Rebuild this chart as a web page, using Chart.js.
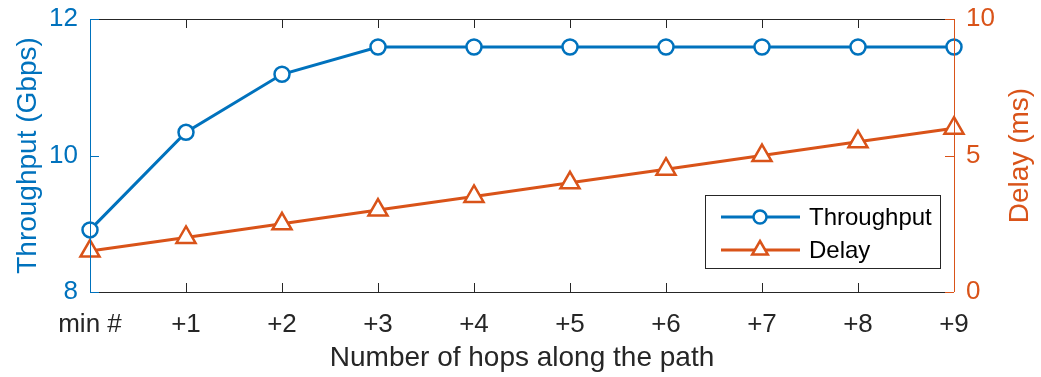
<!DOCTYPE html>
<html>
<head>
<meta charset="utf-8">
<script src="https://cdn.jsdelivr.net/npm/chart.js@4"></script>
<style>
  html, body { margin: 0; padding: 0; background: #fff; }
  #wrap { width: 1041px; height: 377px; }
</style>
</head>
<body>
<div id="wrap"><canvas id="myChart"></canvas></div>
<script>
const hops = ['min #', '+1', '+2', '+3', '+4', '+5', '+6', '+7', '+8', '+9'];
const throughput = [8.91, 10.34, 11.19, 11.59, 11.59, 11.59, 11.59, 11.59, 11.59, 11.59];
const delay = [1.5, 2.0, 2.5, 3.0, 3.5, 4.0, 4.5, 5.0, 5.5, 6.0];
const throughputTicks = [8, 10, 12];
const delayTicks = [0, 5, 10];

const blue = '#0072BD';
const orange = '#D95319';
const font = 'Liberation Sans, Arial, sans-serif';

// box, inward tick marks, right title and the legend, MATLAB style
const matlabBox = {
  id: 'matlabBox',
  afterDatasetsDraw(chart) {
    const c = chart.ctx;
    const a = chart.chartArea;
    const x = chart.scales.x, y = chart.scales.y, y1 = chart.scales.y1;
    c.save();
    c.lineWidth = 1;
    // top / bottom
    c.strokeStyle = '#262626';
    c.beginPath();
    c.moveTo(a.left, a.top + 0.5); c.lineTo(a.right, a.top + 0.5);
    c.moveTo(a.left, a.bottom + 0.5); c.lineTo(a.right, a.bottom + 0.5);
    x.ticks.forEach((t, i) => {
      const px = Math.round(x.getPixelForTick(i)) + 0.5;
      c.moveTo(px, a.bottom); c.lineTo(px, a.bottom - 9);
      c.moveTo(px, a.top); c.lineTo(px, a.top + 9);
    });
    c.stroke();
    // left axis
    c.strokeStyle = blue;
    c.beginPath();
    c.moveTo(a.left + 0.5, a.top); c.lineTo(a.left + 0.5, a.bottom);
    throughputTicks.forEach(v => {
      const py = Math.round(y.getPixelForValue(v)) + 0.5;
      c.moveTo(a.left, py); c.lineTo(a.left + 9, py);
    });
    c.stroke();
    // right axis
    c.strokeStyle = orange;
    c.beginPath();
    c.moveTo(a.right + 0.5, a.top); c.lineTo(a.right + 0.5, a.bottom);
    delayTicks.forEach(v => {
      const py = Math.round(y1.getPixelForValue(v)) + 0.5;
      c.moveTo(a.right, py); c.lineTo(a.right - 9, py);
    });
    c.stroke();

    // right axis title, reading bottom to top
    c.save();
    c.translate(1020, (a.top + a.bottom) / 2);
    c.rotate(-Math.PI / 2);
    c.fillStyle = orange;
    c.font = '28px ' + font;
    c.textAlign = 'center';
    c.textBaseline = 'middle';
    c.fillText('Delay (ms)', 0, 0);
    c.restore();

    // legend
    const lx = 705, ly = 195, lw = 235, lh = 73;
    c.fillStyle = '#fff';
    c.fillRect(lx, ly, lw, lh);
    c.strokeStyle = '#262626';
    c.lineWidth = 1;
    c.strokeRect(lx + 0.5, ly + 0.5, lw, lh);
    chart.data.datasets.forEach((ds, i) => {
      const ry = ly + 22 + i * 33;
      c.strokeStyle = ds.borderColor;
      c.lineWidth = 3;
      c.beginPath();
      c.moveTo(lx + 16, ry); c.lineTo(lx + 95, ry);
      c.stroke();
      c.fillStyle = '#fff';
      c.lineWidth = 2.5;
      c.beginPath();
      if (ds.pointStyle === 'circle') {
        c.arc(lx + 55, ry, 6.5, 0, Math.PI * 2);
      } else {
        const r = 9;
        c.moveTo(lx + 55, ry - r);
        c.lineTo(lx + 55 + r * 0.87, ry + r * 0.5);
        c.lineTo(lx + 55 - r * 0.87, ry + r * 0.5);
        c.closePath();
      }
      c.fill(); c.stroke();
      c.fillStyle = '#000';
      c.font = '24px ' + font;
      c.textBaseline = 'middle';
      c.textAlign = 'left';
      c.fillText(ds.label, lx + 104, ry + 1);
    });
    c.restore();
  }
};

function noPad(s) {
  s.paddingTop = 0; s.paddingBottom = 0;
  s.paddingLeft = 0; s.paddingRight = 0;
}

const ctx = document.getElementById('myChart');

new Chart(ctx, {
  type: 'line',
  data: {
    labels: hops,
    datasets: [{
      label: 'Throughput',
      data: throughput,
      yAxisID: 'y',
      borderColor: blue,
      backgroundColor: '#fff',
      borderWidth: 3,
      pointStyle: 'circle',
      pointRadius: 7.5,
      pointBorderWidth: 2.5,
      tension: 0
    }, {
      label: 'Delay',
      data: delay,
      yAxisID: 'y1',
      borderColor: orange,
      backgroundColor: '#fff',
      borderWidth: 3,
      pointStyle: 'triangle',
      pointRadius: 11,
      pointBorderWidth: 2.5,
      tension: 0
    }]
  },
  options: {
    responsive: true,
    maintainAspectRatio: false,
    animation: false,
    layout: { padding: { top: 19, left: 0, right: 0, bottom: 0 } },
    plugins: {
      legend: { display: false },
      tooltip: { enabled: false }
    },
    scales: {
      x: {
        type: 'category',
        offset: false,
        grid: { display: false, drawTicks: false },
        border: { display: false },
        ticks: {
          color: '#262626',
          font: { family: font, size: 26 },
          padding: 17,
          maxRotation: 0,
          autoSkip: false
        },
        title: {
          display: true,
          text: 'Number of hops along the path',
          color: '#262626',
          font: { family: font, size: 28 },
          padding: { top: 0, bottom: 2 }
        },
        afterFit(s) { s.height = 85; noPad(s); }
      },
      y: {
        position: 'left',
        min: 8,
        max: 12,
        afterBuildTicks(s) { s.ticks = throughputTicks.map(v => ({ value: v })); },
        grid: { display: false, drawTicks: false },
        border: { display: false },
        ticks: {
          color: blue,
          font: { family: font, size: 26 },
          padding: 12
        },
        title: {
          display: true,
          text: 'Throughput (Gbps)',
          color: blue,
          font: { family: font, size: 28 },
          padding: { top: 11, bottom: 0 }
        },
        afterFit(s) { s.width = 90; noPad(s); }
      },
      y1: {
        position: 'right',
        min: 0,
        max: 10,
        afterBuildTicks(s) { s.ticks = delayTicks.map(v => ({ value: v })); },
        grid: { display: false, drawTicks: false },
        border: { display: false },
        ticks: {
          color: orange,
          font: { family: font, size: 26 },
          padding: 12
        },
        afterFit(s) { s.width = 87; noPad(s); }
      }
    }
  },
  plugins: [matlabBox]
});
</script>
</body>
</html>
